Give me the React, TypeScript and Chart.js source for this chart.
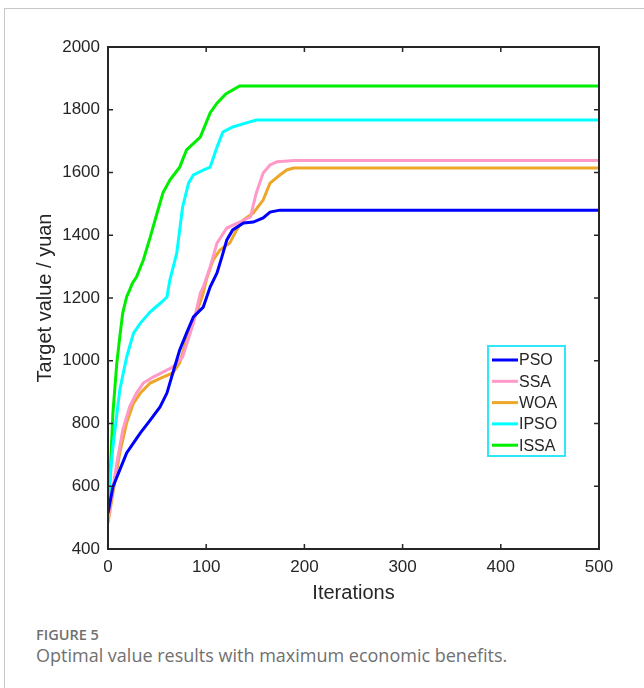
import React, { useEffect, useRef } from "react";
import { Chart, registerables } from "chart.js";

Chart.register(...registerables);

const seriesNames = ["PSO", "SSA", "WOA", "IPSO", "ISSA"];
const seriesColors = ["#0000ff", "#ff99c8", "#eda628", "#00ffff", "#00ee00"];

const iterPSO = [0, 5, 12, 19, 26, 33, 43, 53, 60, 66, 73, 80, 87, 97, 104, 111, 116, 121, 127, 138, 148, 158, 165, 175, 500];
const valPSO = [515, 598, 652, 706, 738, 770, 811, 853, 897, 961, 1034, 1088, 1140, 1171, 1235, 1280, 1331, 1385, 1417, 1439, 1442, 1455, 1474, 1480, 1480];

const iterSSA = [0, 2, 9, 15, 22, 29, 36, 46, 56, 66, 76, 87, 94, 97, 104, 111, 121, 134, 145, 151, 158, 165, 172, 190, 500];
const valSSA = [490, 534, 674, 779, 853, 897, 929, 948, 964, 980, 1012, 1120, 1216, 1235, 1299, 1375, 1423, 1442, 1458, 1535, 1598, 1624, 1634, 1638, 1638];

const iterWOA = [0, 5, 12, 19, 26, 33, 43, 56, 66, 73, 80, 90, 97, 100, 107, 114, 124, 131, 138, 148, 158, 165, 175, 182, 189, 500];
const valWOA = [483, 578, 706, 802, 865, 897, 929, 948, 961, 993, 1066, 1152, 1216, 1257, 1321, 1353, 1375, 1417, 1449, 1471, 1512, 1566, 1592, 1608, 1614, 1614];

const iterIPSO = [0, 2, 5, 12, 19, 26, 33, 43, 55, 60, 63, 70, 73, 76, 82, 87, 97, 104, 111, 117, 127, 141, 151, 500];
const valIPSO = [534, 620, 725, 907, 1012, 1088, 1120, 1156, 1188, 1203, 1257, 1343, 1417, 1490, 1566, 1592, 1608, 1617, 1681, 1729, 1745, 1758, 1767, 1767];

const iterISSA = [0, 2, 5, 9, 12, 15, 19, 22, 25, 29, 36, 43, 50, 56, 63, 73, 80, 94, 104, 111, 120, 134, 500];
const valISSA = [534, 620, 833, 993, 1076, 1152, 1204, 1225, 1248, 1267, 1321, 1394, 1471, 1535, 1576, 1617, 1672, 1713, 1790, 1821, 1850, 1876, 1876];

const xTickValues = [0, 100, 200, 300, 400, 500];
const yTickValues = [400, 600, 800, 1000, 1200, 1400, 1600, 1800, 2000];

const xTitle = "Iterations";
const yTitle = "Target value / yuan";
const figureLabel = "FIGURE 5";
const captionText = "Optimal value results with maximum economic benefits.";

const FONT = "'Liberation Sans', Arial, Helvetica, sans-serif";
const AXIS = "#262626";

const allIters = [iterPSO, iterSSA, iterWOA, iterIPSO, iterISSA];
const allVals = [valPSO, valSSA, valWOA, valIPSO, valISSA];

const boxPlugin = {
  id: "boxAndLegend",
  afterDatasetsDraw(chart: any) {
    const { ctx, chartArea, scales } = chart;
    const { left, right, top, bottom } = chartArea;
    ctx.save();
    ctx.strokeStyle = AXIS;
    ctx.lineWidth = 1.5;
    const tl = 5;
    xTickValues.forEach((v) => {
      const x = scales.x.getPixelForValue(v);
      ctx.beginPath();
      ctx.moveTo(x, bottom);
      ctx.lineTo(x, bottom - tl);
      ctx.moveTo(x, top);
      ctx.lineTo(x, top + tl);
      ctx.stroke();
    });
    yTickValues.forEach((v) => {
      const y = scales.y.getPixelForValue(v);
      ctx.beginPath();
      ctx.moveTo(left, y);
      ctx.lineTo(left + tl, y);
      ctx.moveTo(right, y);
      ctx.lineTo(right - tl, y);
      ctx.stroke();
    });
    ctx.lineWidth = 2;
    ctx.strokeRect(left, top, right - left, bottom - top);

    const lx = 488, ly = 346, lw = 77, lh = 110;
    ctx.fillStyle = "#ffffff";
    ctx.fillRect(lx, ly, lw, lh);
    ctx.strokeStyle = "#2ee8f8";
    ctx.lineWidth = 2;
    ctx.strokeRect(lx, ly, lw, lh);
    ctx.font = "16px " + FONT;
    ctx.textBaseline = "middle";
    ctx.textAlign = "left";
    seriesNames.forEach((name, i) => {
      const y = ly + 14 + i * 21.3;
      ctx.strokeStyle = seriesColors[i];
      ctx.lineWidth = 3;
      ctx.beginPath();
      ctx.moveTo(lx + 4, y);
      ctx.lineTo(lx + 30, y);
      ctx.stroke();
      ctx.fillStyle = AXIS;
      ctx.fillText(name, lx + 31, y + 1);
    });
    ctx.restore();
  },
};

export default function App() {
  const ref = useRef<HTMLCanvasElement | null>(null);

  useEffect(() => {
    if (!ref.current) return;
    const datasets = seriesNames.map((name, i) => ({
      label: name,
      data: allIters[i].map((x, j) => ({ x, y: allVals[i][j] })),
      borderColor: seriesColors[i],
      backgroundColor: seriesColors[i],
      borderWidth: 3,
      pointRadius: 0,
      tension: 0,
      fill: false,
    }));
    const chart = new Chart(ref.current, {
      type: "line",
      data: { datasets },
      plugins: [boxPlugin],
      options: {
        animation: false,
        responsive: false,
        maintainAspectRatio: false,
        layout: { padding: { left: 0, top: 47, right: 45, bottom: 15 } },
        plugins: { legend: { display: false }, tooltip: { enabled: false } },
        scales: {
          x: {
            type: "linear",
            min: 0,
            max: 500,
            afterBuildTicks: (s: any) => {
              s.ticks = xTickValues.map((v) => ({ value: v }));
            },
            afterFit: (s: any) => {
              s.height = 56;
            },
            ticks: {
              font: { family: FONT, size: 17 },
              color: AXIS,
              padding: 8,
              maxRotation: 0,
              callback: (v: any) => String(v),
            },
            grid: { display: false, drawTicks: false },
            border: { display: false },
            title: {
              display: true,
              text: xTitle,
              font: { family: FONT, size: 20 },
              color: AXIS,
              padding: { top: 0, bottom: 0 },
            },
          },
          y: {
            type: "linear",
            min: 400,
            max: 2000,
            afterBuildTicks: (s: any) => {
              s.ticks = yTickValues.map((v) => ({ value: v }));
            },
            afterFit: (s: any) => {
              s.width = 108;
            },
            ticks: {
              font: { family: FONT, size: 17 },
              color: AXIS,
              padding: 8,
              callback: (v: any) => String(v),
            },
            grid: { display: false, drawTicks: false },
            border: { display: false },
            title: {
              display: true,
              text: yTitle,
              font: { family: FONT, size: 20 },
              color: AXIS,
              padding: { top: 33, bottom: 0 },
            },
          },
        },
      },
    });
    return () => chart.destroy();
  }, []);

  return (
    <div style={{ position: "absolute", top: 0, left: 0, width: 644, height: 688, background: "#fff", overflow: "hidden" }}>
      <div
        style={{
          position: "absolute",
          top: 8,
          left: 4,
          width: 640,
          height: 680,
          borderTop: "1px solid #c8c8c8",
          borderLeft: "1px solid #c8c8c8",
        }}
      />
      <canvas ref={ref} width={644} height={620} style={{ position: "absolute", top: 0, left: 0 }} />
      <div
        style={{
          position: "absolute",
          left: 36,
          top: 625,
          fontFamily: "'Open Sans', sans-serif",
          fontSize: 14.5,
          fontWeight: 600,
          color: "#707070",
          lineHeight: "20px",
          whiteSpace: "nowrap",
        }}
      >
        {figureLabel}
      </div>
      <div
        style={{
          position: "absolute",
          left: 36,
          top: 643,
          fontFamily: "'Open Sans', sans-serif",
          fontSize: 18,
          color: "#707070",
          lineHeight: "24px",
          whiteSpace: "nowrap",
        }}
      >
        {captionText}
      </div>
    </div>
  );
}
